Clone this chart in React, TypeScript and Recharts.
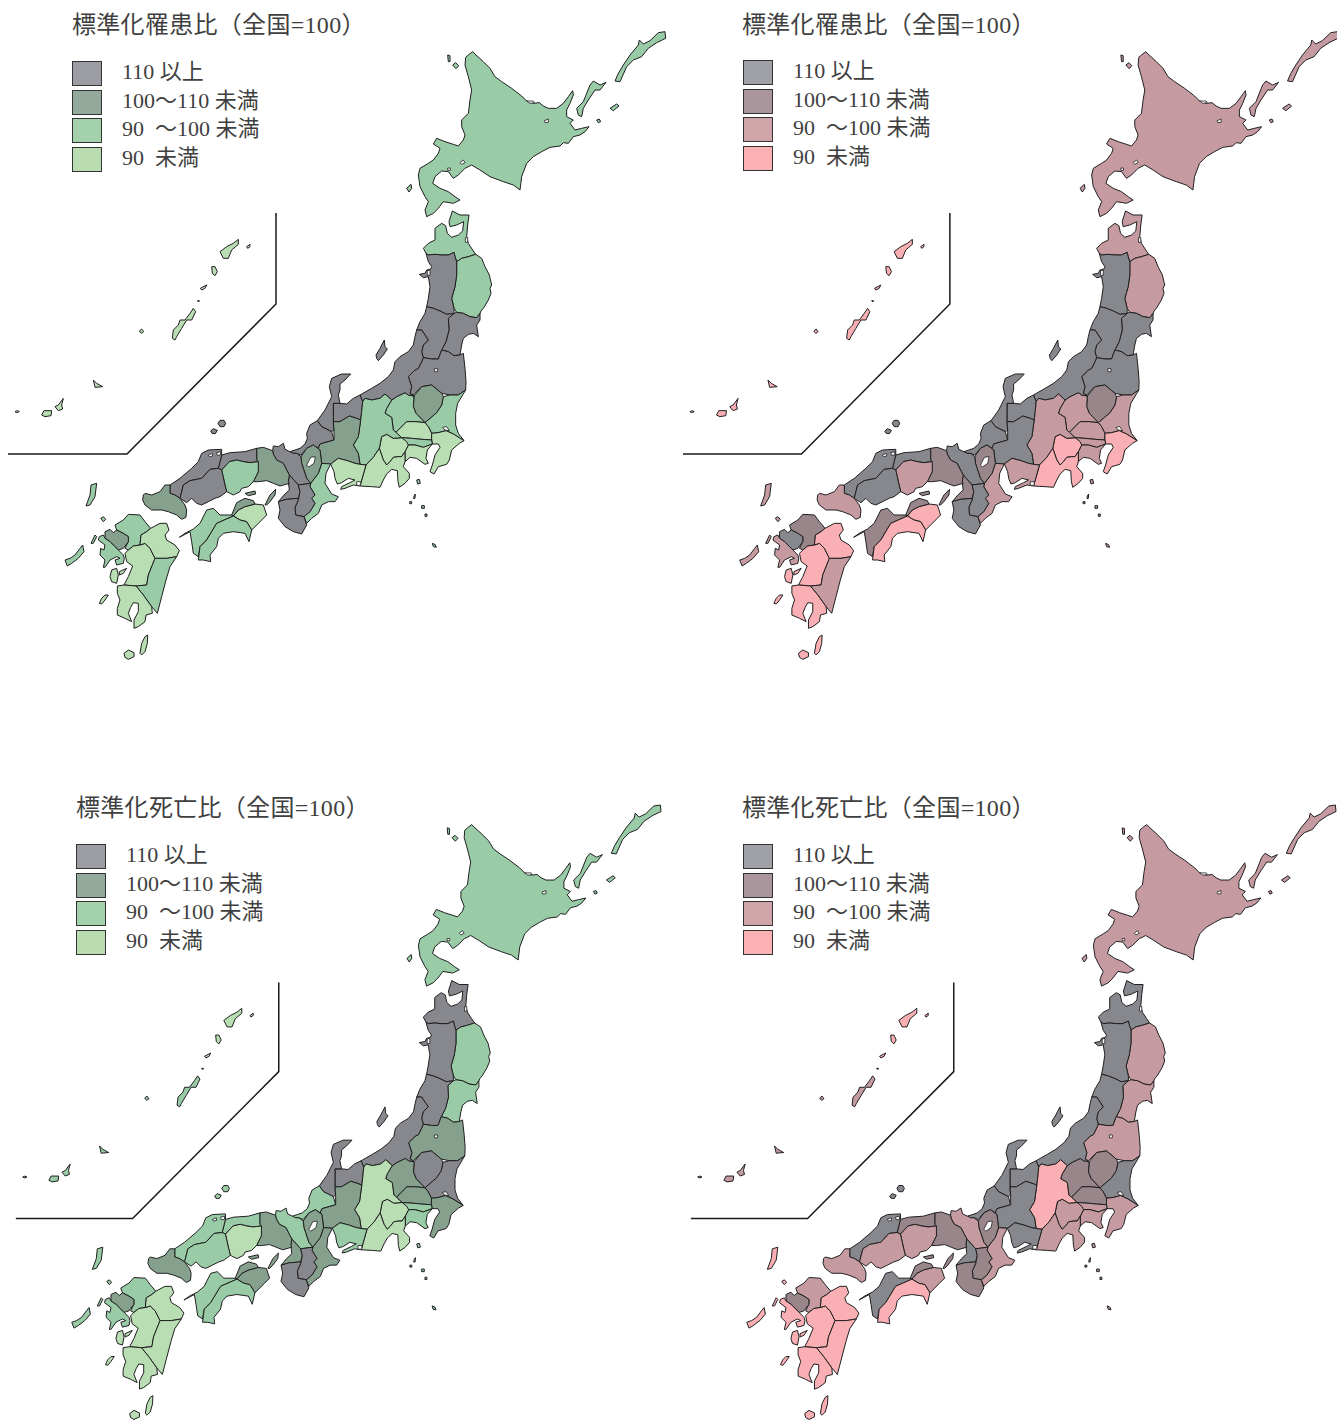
import React from 'react'
import { ScatterChart, Scatter, XAxis, YAxis } from 'recharts'

type Pt = { x: number; y: number }
const crop = (ox: number, oy: number, p: number[]): Pt[] => {
  const out: Pt[] = []
  for (let i = 0; i < p.length; i += 2) out.push({ x: ox + p[i] / 3, y: oy + p[i + 1] / 3 })
  return out
}
const a = (p: number[]) => crop(400, 20, p) // north
const b = (p: number[]) => crop(300, 205, p) // tohoku
const c = (p: number[]) => crop(290, 370, p) // chubu, kanto
const d = (p: number[]) => crop(130, 430, p) // chugoku, kinki, shikoku
const e = (p: number[]) => crop(60, 480, p) // kyushu
const f = (p: number[]) => crop(0, 205, p) // inset

const HOKKAIDO = [
  a([197,112,205,105,218,95,228,105,250,125,270,145,285,170,305,185,335,205,365,228,380,243,400,250,418,248,430,258,445,265,470,265,490,250,505,230,518,212,520,225,510,250,500,270,500,290,520,300,510,310,525,330,545,325,567,320,555,335,540,345,520,350,505,370,490,368,480,378,450,382,425,395,400,410,380,430,365,470,360,510,340,495,310,485,270,470,240,450,215,435,195,445,175,465,160,475,145,455,125,453,105,470,98,490,120,505,145,515,165,530,180,540,160,550,130,545,115,565,100,580,80,590,75,570,85,545,75,530,60,500,55,465,60,445,85,430,100,420,115,400,120,385,100,372,110,355,135,365,160,373,175,378,190,360,195,345,185,320,185,300,205,280,210,240,215,210,205,170,195,135]),
  a([143,105,150,107,150,125,145,125]),
  a([158,135,167,128,176,137,168,146]),
  a([20,505,33,493,35,505,27,516]),
  a([530,265,550,245,570,195,580,183,600,195,618,187,600,210,585,210,565,240,550,265,545,290,535,285]),
  a([645,183,655,160,670,135,690,105,715,75,718,60,730,72,750,62,775,38,795,35,797,55,770,68,745,85,725,110,700,120,680,140,660,185]),
  a([630,265,650,252,657,258,640,272]),
  a([590,300,598,297,602,305,595,308]),
]
const AOMORI = [b([370,130,385,115,405,105,405,70,425,55,437,62,442,85,455,97,475,90,488,78,491,50,470,60,450,65,447,50,457,18,480,30,507,30,503,60,500,95,505,115,518,135,527,148,505,155,485,160,470,170,465,155,462,142,445,150,425,150,405,148,385,150,378,145])]
const IWATE = [b([470,170,485,160,505,155,527,148,545,160,555,185,568,210,575,240,570,250,573,265,565,285,550,310,543,318,540,325,530,338,510,335,490,325,470,322,462,310,455,280,465,245,470,210])]
const AKITA = [b([378,145,385,150,405,148,425,150,445,150,462,142,465,155,470,170,470,210,465,245,455,280,462,310,462,325,440,328,420,318,400,310,380,305,385,280,390,245,385,215,370,218,358,208,375,205,380,195,392,192,395,185,385,170])]
const MIYAGI = [b([462,325,470,322,490,325,510,335,530,338,540,325,540,345,530,360,535,395,520,385,505,388,490,400,485,420,480,450,462,452,445,440,425,435,438,410,447,375,445,340])]
const YAMAGATA = [b([380,305,400,310,420,318,440,328,462,325,445,340,447,375,438,410,425,435,415,462,395,462,370,458,365,440,370,420,385,405,375,390,365,375,350,375,360,350,375,325])]
const FUKUSHIMA = [b([370,458,395,462,415,462,425,435,445,440,462,452,480,450,490,445,495,490,498,530,497,555,475,570,450,570,425,565,395,540,365,545,340,570,330,565,335,545,325,515,345,495,355,490,365,470])]
const IBARAKI = [c([527,60,505,75,480,75,460,80,455,105,440,128,420,145,405,158,415,170,425,190,445,188,468,182,490,192,522,212,505,190,497,165,497,130,503,100])]
const TOCHIGI = [c([455,70,425,45,395,50,372,78,370,110,378,130,405,158,420,145,440,128,455,105,460,80])]
const GUNMA = [c([372,78,355,75,345,68,320,80,305,90,290,115,285,130,305,142,310,180,318,187,350,155,378,155,405,158,378,130,370,110])]
const SAITAMA = [c([318,187,350,155,378,155,405,158,415,170,425,190,425,210,395,208,365,205,335,203])]
const CHIBA = [c([425,190,445,188,468,182,490,192,522,212,508,220,485,240,478,270,470,283,445,290,432,312,420,305,427,285,435,255,450,232,445,222,427,222,425,210])]
const TOKYO = [
  c([335,203,365,205,395,208,425,210,427,222,400,232,375,225,355,225,340,215]),
  c([380,330,388,328,391,340,383,342]),
  c([372,378,376,372,375,385,371,386]),
  c([359,395,365,395,365,401,359,401]),
  c([395,407,403,407,403,415,395,415]),
  c([405,432,411,432,411,439,405,439]),
  c([427,520,436,524,439,532,430,530]),
]
const KANAGAWA = [c([345,245,355,225,375,225,400,232,427,222,412,240,408,265,415,280,405,283,380,265,360,262,345,275])]
const NIIGATA = [
  c([380,-120,375,-100,370,-75,355,-55,330,-40,315,-25,310,0,295,20,270,40,245,55,210,75,218,95,225,85,245,90,270,85,285,72,305,90,320,80,345,68,355,75,372,78,360,70,365,50,355,20,375,0,385,-5,395,-25,400,-37,395,-55,400,-75,415,-90,405,-105,395,-120]),
  b([228,450,240,430,245,420,253,405,255,425,262,432,250,450,235,467,230,460]),
]
const TOYAMA = [c([150,100,170,102,190,85,210,75,218,95,215,125,212,150,200,145,178,138,150,155,130,155,130,100])]
const ISHIKAWA = [c([82,152,105,120,125,80,118,50,125,25,155,12,182,12,165,30,150,42,150,60,145,75,150,100,130,100,130,155,132,180,125,185,95,170])]
const FUKUI = [c([82,152,95,170,125,185,132,210,90,222,85,235,70,225,50,235,33,255,20,250,5,250,0,245,15,240,30,235,45,222,52,205,50,190,60,165])]
const YAMANASHI = [c([268,235,275,200,290,193,310,205,335,203,350,215,355,225,345,245,335,260,325,260,310,262,300,275,290,285,280,270])]
const NAGANO = [c([218,95,225,85,245,90,270,85,285,72,305,90,290,115,285,130,305,142,310,180,318,187,335,203,310,205,290,193,275,200,268,235,250,262,228,285,210,283,205,250,190,225,205,200,212,150,215,125])]
const GIFU = [c([132,210,90,222,85,235,90,240,95,280,122,282,145,265,172,272,195,280,210,283,205,250,190,225,205,200,212,150,200,145,178,138,150,155,130,155,132,180])]
const SHIZUOKA = [c([228,285,250,262,268,235,280,270,290,285,300,275,310,262,325,260,335,260,345,245,345,275,340,290,358,310,358,325,345,340,328,352,324,335,322,302,305,298,290,312,280,330,270,352,245,350,210,348])]
const AICHI = [c([122,282,145,265,172,272,195,280,210,283,228,285,210,348,190,345,165,355,152,358,155,350,180,338,195,330,175,325,155,338,142,342,135,325,132,305])]
const MIE = [c([95,280,122,282,108,310,105,340,125,372,145,380,135,395,115,395,95,405,85,430,65,445,50,460,42,440,60,425,75,400,65,385,75,375,60,350,62,340,85,310])]
const SHIGA = [d([513,80,530,55,550,45,570,60,575,100,565,130,542,160,530,145,520,115,515,100])]
const KYOTO = [d([430,48,445,50,460,40,465,58,480,65,490,70,500,70,513,80,515,100,520,115,530,145,542,160,505,165,478,135,470,120,460,100,440,90,430,72,428,62])]
const OSAKA = [d([478,135,505,165,510,185,505,205,470,208,445,215,462,195,478,180,475,155])]
const HYOGO = [
  d([380,55,400,52,428,62,430,72,440,90,460,100,470,120,478,135,475,155,478,160,450,168,430,160,410,152,385,155,370,155,385,125,380,90]),
  d([405,225,420,195,437,178,435,195,420,215,410,225]),
]
const NARA = [d([505,165,542,160,540,170,555,195,545,205,555,220,540,245,522,260,497,255,495,232,505,210,510,185])]
const WAKAYAMA = [d([445,215,470,208,505,205,505,210,495,232,497,255,522,260,530,285,515,312,490,305,465,290,445,265,450,240])]
const TOTTORI = [d([270,95,275,75,300,68,345,65,380,55,380,90,385,95,360,98,340,95,320,90,298,95,275,120,265,115])]
const SHIMANE = [
  d([120,165,150,145,185,115,205,95,215,70,235,60,275,58,275,75,270,95,265,115,240,118,215,145,180,152,160,165,150,205,135,195,120,190]),
  f([654,655,660,646,672,646,677,655,672,665,660,665]),
  f([632,678,640,671,652,676,646,686,636,685]),
]
const OKAYAMA = [d([275,120,298,95,320,90,340,95,360,98,385,95,385,125,370,155,355,170,335,175,330,185,310,195,290,185,285,165])]
const HIROSHIMA = [d([160,165,180,152,215,145,240,118,265,115,275,120,285,165,290,185,270,200,255,205,235,215,215,225,200,220,185,205,170,218,150,205])]
const YAMAGUCHI = [d([40,195,45,190,65,195,90,185,105,165,120,165,120,190,135,195,150,205,165,225,170,240,168,262,155,268,140,255,115,245,95,240,65,240,45,225,38,210])]
const TOKUSHIMA = [d([310,258,325,240,345,230,375,222,400,225,410,255,395,270,365,300,350,275,330,270])]
const KAGAWA = [
  d([305,255,320,218,345,205,370,212,375,222,345,230,325,240,310,258]),
  d([345,190,375,183,377,192,355,197]),
]
const EHIME = [d([148,322,165,310,190,297,210,280,230,240,250,235,270,255,305,255,310,258,260,280,230,330,210,350,205,380,190,370,185,335,180,305])]
const KOCHI = [d([205,390,210,350,230,330,260,280,310,258,330,270,350,275,365,300,357,335,345,310,310,305,280,310,265,325,260,350,240,375,242,395,220,390])]
const FUKUOKA = [e([165,135,190,120,205,103,240,105,255,125,272,145,260,155,243,165,240,195,220,198,205,210,195,205,205,185,205,170,190,160,170,150])]
const SAGA = [e([135,155,150,148,160,158,170,150,190,160,205,170,205,185,190,205,175,210,165,200,150,185,135,175])]
const NAGASAKI = [
  e([118,170,130,165,135,175,150,185,165,200,175,210,190,225,193,235,190,250,170,255,165,240,180,235,170,230,150,240,135,262,130,262,135,240,120,225,122,205,132,210,135,195,115,180]),
  e([93,190,105,165,110,170,100,190]),
  e([15,240,30,235,45,225,60,205,68,195,72,215,55,235,35,250,22,258]),
  e([78,78,90,45,93,15,110,10,105,50,90,75]),
  e([122,115,130,110,137,118,130,125]),
]
const KUMAMOTO = [
  e([205,210,220,198,240,195,255,190,270,205,285,235,265,285,260,315,228,318,192,315,205,290,218,258,200,245,195,220]),
  e([155,270,170,265,175,285,170,310,155,305,150,290]),
  e([178,275,200,265,190,280,178,285]),
]
const OITA = [e([243,165,260,155,272,145,300,130,320,130,327,150,315,165,320,180,345,195,358,212,350,230,320,235,285,235,270,205,255,190,240,195])]
const MIYAZAKI = [e([285,235,320,235,350,230,330,260,318,300,305,350,292,400,275,380,250,345,228,318,260,315,265,285])]
const KAGOSHIMA = [
  e([172,318,192,315,228,318,250,345,275,380,277,400,258,405,255,425,235,440,222,445,222,420,235,395,235,370,220,368,212,382,205,400,215,425,195,415,172,405,172,385,180,360,172,340]),
  e([192,520,205,510,222,518,222,530,205,538,195,532]),
  e([240,520,245,490,255,470,263,465,262,490,255,515,245,525]),
  e([118,370,125,355,135,345,145,345,135,360,125,372]),
  f([660,140,680,125,700,115,715,103,715,118,695,135,685,160,670,160]),
  f([740,125,750,118,750,125,743,130]),
  f([635,185,645,185,652,200,645,212,637,205]),
  f([601,250,620,240,615,250,605,255]),
  f([592,287,598,287,596,291]),
]
const OKINAWA = [
  f([517,400,520,375,535,360,540,345,555,345,570,325,580,310,587,320,575,345,560,345,545,370,530,395,525,405]),
  f([418,378,425,372,431,380,424,385]),
  f([280,525,290,535,308,545,285,547]),
  f([125,630,132,617,155,617,153,632,135,635]),
  f([165,605,175,600,190,580,185,600,188,612,175,617]),
  f([45,620,52,617,58,620,50,623]),
]

const PREFECTURES = [HOKKAIDO, AOMORI, IWATE, AKITA, MIYAGI, YAMAGATA, FUKUSHIMA, IBARAKI, TOCHIGI, GUNMA, SAITAMA, CHIBA, TOKYO, KANAGAWA, NIIGATA, TOYAMA, ISHIKAWA, FUKUI, YAMANASHI, NAGANO, GIFU, SHIZUOKA, AICHI, MIE, SHIGA, KYOTO, OSAKA, HYOGO, NARA, WAKAYAMA, TOTTORI, SHIMANE, OKAYAMA, HIROSHIMA, YAMAGUCHI, TOKUSHIMA, KAGAWA, EHIME, KOCHI, FUKUOKA, SAGA, NAGASAKI, KUMAMOTO, OITA, MIYAZAKI, KAGOSHIMA, OKINAWA]

// class of each prefecture, same order as PREFECTURES: 0 = 110+, 1 = 100-110, 2 = 90-100, 3 = under 90
const INCIDENCE_GREEN = [2,2,2,0,0,0,0,2,1,2,3,3,2,3,0,0,0,0,3,2,1,3,3,2,1,0,0,1,0,0,0,0,2,0,1,3,1,2,2,2,1,2,3,3,2,3,3]
const INCIDENCE_PINK = [2,2,2,0,0,0,0,2,1,2,2,3,2,2,0,0,0,0,3,2,0,3,2,2,1,0,1,1,0,0,0,0,2,0,2,3,1,1,3,1,0,2,3,3,2,3,3]
const MORTALITY_GREEN = [2,0,2,0,2,0,1,0,0,1,1,1,2,2,0,0,0,2,3,3,1,3,2,1,1,2,1,1,0,0,2,2,3,2,1,1,1,2,2,2,1,2,3,3,3,3,2]
const MORTALITY_PINK = [2,0,2,0,2,0,2,0,1,1,1,2,2,2,0,0,0,0,2,3,0,2,0,2,1,2,0,1,1,1,1,0,2,2,2,2,1,0,3,2,1,3,3,3,3,3,2]

const GREEN_MAP = ['#87878e', '#85a08d', '#99cba7', '#b9deb3']
const PINK_MAP = ['#87888d', '#99868b', '#c59ba1', '#f9afb3']
const GREEN_KEY = ['#9c9ca4', '#93a99b', '#a3d1ab', '#b9dcb1']
const PINK_KEY = ['#a0a1a7', '#a9959b', '#d0a5a9', '#fbb0b4']
const KEY_LABELS = ['110 以上', '100〜110 未満', '90  〜100 未満', '90  未満']

// small water bodies, white on top of the land
const LAKES = [
  a([380,243,400,243,403,248,390,250]),
  a([433,302,445,297,445,307,435,308]),
  a([180,428,190,420,195,428,185,433]),
  a([143,444,151,444,151,451,143,451]),
  b([382,197,390,195,390,211,382,211]),
  b([496,98,503,98,503,112,496,112]),
  b([404,491,413,491,413,500,404,500]),
  c([50,285,62,262,76,260,72,280,56,291]),
  c([458,172,470,170,478,182,465,180]),
  c([200,335,212,335,212,346,200,346]),
  d([235,75,247,70,248,78,238,80]),
  d([260,68,272,65,272,75,262,76]),
]
const INSET_LINE = [{ x: 276, y: 213 }, { x: 276, y: 304 }, { x: 127, y: 454 }, { x: 8, y: 454 }]

const SPAN = 680
const FONT = '"Liberation Serif", "Noto Sans CJK JP", serif'

const ring = (fill: string, stroke: string, width: number) => (p: any) => (
  <polygon
    points={p.points.map((q: Pt) => `${q.x},${q.y}`).join(' ')}
    fill={fill}
    stroke={stroke}
    strokeWidth={width}
    strokeLinejoin="round"
  />
)
const noDot = () => <g />

function Panel({ left, top, sx, sy, classes, colors, keyColors, title, titleX, titleY, keyX, keyY }: any) {
  return (
    <>
      <div style={{ position: 'absolute', left, top, width: SPAN * sx, height: SPAN * sy }}>
        <ScatterChart width={SPAN * sx} height={SPAN * sy} margin={{ top: 0, right: 0, bottom: 0, left: 0 }}>
          <XAxis type="number" dataKey="x" domain={[0, SPAN]} hide />
          <YAxis type="number" dataKey="y" domain={[0, SPAN]} reversed hide />
          {PREFECTURES.flatMap((rings, i) =>
            rings.map((pts, j) => (
              <Scatter
                key={`${i}-${j}`}
                data={pts}
                shape={noDot}
                line={ring(colors[classes[i]], '#1f1f1f', 1)}
                isAnimationActive={false}
              />
            ))
          )}
          {LAKES.map((pts, i) => (
            <Scatter key={`lake-${i}`} data={pts} shape={noDot} line={ring('#ffffff', '#1f1f1f', 0.8)} isAnimationActive={false} />
          ))}
          <Scatter data={INSET_LINE} shape={noDot} line={{ stroke: '#1a1a1a', strokeWidth: 1.5 }} isAnimationActive={false} />
        </ScatterChart>
      </div>
      <div style={{ position: 'absolute', left: titleX, top: titleY, fontFamily: FONT, fontSize: 24, letterSpacing: 0.3, lineHeight: '26px', color: '#3f3f3f', whiteSpace: 'pre' }}>
        {title}
      </div>
      {KEY_LABELS.map((label, i) => (
        <React.Fragment key={label}>
          <div style={{ position: 'absolute', left: keyX, top: keyY + i * 28.7, width: 28, height: 23, background: keyColors[i], border: '1px solid #333' }} />
          <div style={{ position: 'absolute', left: keyX + 50, top: keyY - 1 + i * 28.7, fontFamily: FONT, fontSize: 22, lineHeight: '24px', color: '#3f3f3f', whiteSpace: 'pre' }}>
            {label}
          </div>
        </React.Fragment>
      ))}
    </>
  )
}

export default function App() {
  return (
    <div style={{ position: 'absolute', left: 0, top: 0, width: 1337, height: 1420, overflow: 'hidden', background: '#fff' }}>
      <Panel left={0} top={0} sx={1} sy={1} classes={INCIDENCE_GREEN} colors={GREEN_MAP} keyColors={GREEN_KEY} title="標準化罹患比（全国=100）" titleX={72} titleY={12} keyX={72} keyY={61} />
      <Panel left={675} top={0} sx={0.996} sy={1} classes={INCIDENCE_PINK} colors={PINK_MAP} keyColors={PINK_KEY} title="標準化罹患比（全国=100）" titleX={742} titleY={12} keyX={743} keyY={60} />
      <Panel left={7.5} top={774} sx={0.981} sy={0.979} classes={MORTALITY_GREEN} colors={GREEN_MAP} keyColors={GREEN_KEY} title="標準化死亡比（全国=100）" titleX={76} titleY={795} keyX={76} keyY={844} />
      <Panel left={682.5} top={774} sx={0.981} sy={0.979} classes={MORTALITY_PINK} colors={PINK_MAP} keyColors={PINK_KEY} title="標準化死亡比（全国=100）" titleX={742} titleY={795} keyX={743} keyY={844} />
    </div>
  )
}
